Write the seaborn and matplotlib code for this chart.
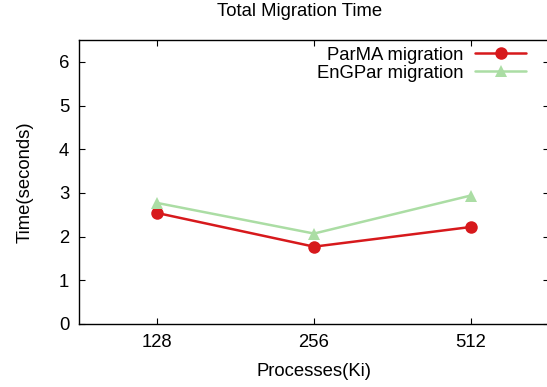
import pandas as pd
import matplotlib.pyplot as plt
import seaborn as sns

# data
procs = ['128', '256', '512']
parma = [2.54, 1.77, 2.22]
engpar = [2.77, 2.07, 2.94]
series = ['ParMA migration', 'EnGPar migration']

df = pd.DataFrame({
    'proc': procs * 2,
    'pos': [0, 1, 2] * 2,
    'time': parma + engpar,
    'method': [series[0]] * 3 + [series[1]] * 3,
})

sns.set_style('ticks')
plt.rcParams['font.family'] = ['Liberation Sans', 'DejaVu Sans']
plt.rcParams['text.color'] = 'black'
plt.rcParams['axes.labelcolor'] = 'black'
fs = 13.3

fgr = plt.figure(figsize=(5.47, 3.87), dpi=100)
ax = fgr.add_axes([79/547, 63/387, 470/547, 284/387])

palette = {series[0]: '#d7191c', series[1]: '#abdda4'}
sns.lineplot(data=df, x='pos', y='time', hue='method', style='method',
             hue_order=series, style_order=series, palette=palette,
             markers={series[0]: 'o', series[1]: '^'}, dashes=False,
             linewidth=1.8, markersize=9, markeredgewidth=0, ax=ax)

ax.set_xlim(-0.5, 2.5)
ax.set_ylim(0, 6.5)
ax.set_xticks([0, 1, 2])
ax.set_xticklabels(procs)
ax.set_yticks(range(7))
ax.tick_params(direction='in', length=4, width=0.8, top=True, right=True,
               labelsize=fs, colors='black', pad=7)
for s in ax.spines.values():
    s.set_color('black')
    s.set_linewidth(1.0)

ax.set_xlabel('Processes(Ki)', fontsize=fs, labelpad=9)
ax.set_ylabel('Time(seconds)', fontsize=fs, labelpad=18)
fgr.text(300/547, 1 - 12/387, 'Total Migration Time', ha='center', va='center', fontsize=fs)

# legend: text right-aligned, one legend per row
handles, labels = ax.get_legend_handles_labels()
ax.get_legend().remove()
rows_y = [55, 73]
for i, (h, l, y) in enumerate(zip(handles, labels, rows_y)):
    leg = ax.legend([h], [l], loc='center right', bbox_to_anchor=(526/547, 1 - y/387),
                    bbox_transform=fgr.transFigure, frameon=False, markerfirst=False,
                    fontsize=fs, handlelength=2.76, handletextpad=0.65,
                    borderpad=0, borderaxespad=0, labelcolor='black')
    if i < len(handles) - 1:
        ax.add_artist(leg)

plt.savefig('out.png', dpi=100)
